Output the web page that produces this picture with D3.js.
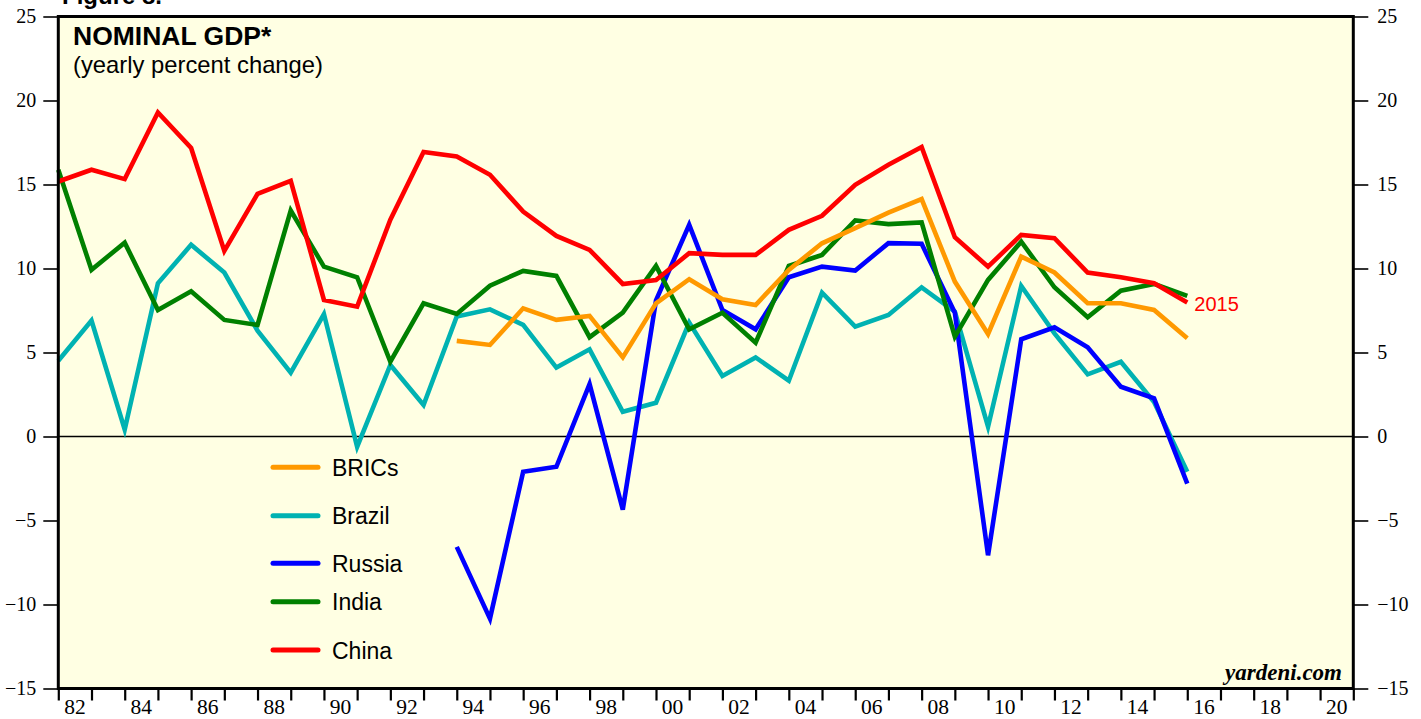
<!DOCTYPE html>
<html>
<head>
<meta charset="utf-8">
<script src="https://cdn.jsdelivr.net/npm/d3@7"></script>
<style>
  html, body { margin: 0; padding: 0; background: #ffffff; }
  svg { display: block; }
</style>
</head>
<body>
<svg id="chart" width="1421" height="719"></svg>
<script>
// ---------------- DATA ----------------
const years = d3.range(1981, 2016); // 1981..2015

const china = [15.18, 15.88, 15.32, 19.29, 17.17, 11.05, 14.45, 15.22, 8.13, 7.73,
  12.9, 16.93, 16.67, 15.58, 13.39, 11.94, 11.11, 9.08, 9.32, 10.91,
  10.81, 10.81, 12.3, 13.14, 14.98, 16.17, 17.23, 11.86, 10.11, 12.0,
  11.8, 9.76, 9.48, 9.12, 7.97];

const india = [15.88, 9.92, 11.54, 7.53, 8.65, 6.94, 6.64, 13.45, 10.11, 9.48,
  4.45, 7.93, 7.29, 8.98, 9.86, 9.56, 5.91, 7.37, 10.15, 6.38,
  7.37, 5.58, 10.15, 10.81, 12.86, 12.64, 12.74, 5.94, 9.32, 11.6,
  8.88, 7.1, 8.68, 9.08, 8.37];

const brazil = [4.51, 6.9, 0.42, 9.12, 11.41, 9.76, 6.3, 3.8, 7.29, -0.61,
  4.26, 1.87, 7.15, 7.57, 6.64, 4.1, 5.19, 1.47, 2.01, 6.78,
  3.6, 4.71, 3.32, 8.56, 6.54, 7.23, 8.88, 7.43, 0.58, 8.96,
  6.14, 3.7, 4.45, 2.05, -2.1];

const russia = [null, null, null, null, null, null, null, null, null, null,
  null, null, -6.57, -10.84, -2.1, -1.8, 3.12, -4.35, 8.1, 12.6,
  7.53, 6.38, 9.48, 10.11, 9.88, 11.51, 11.47, 7.37, -7.07, 5.79,
  6.5, 5.31, 2.96, 2.27, -2.8];

const brics = [null, null, null, null, null, null, null, null, null, null,
  null, null, 5.69, 5.45, 7.63, 6.94, 7.18, 4.71, 7.93, 9.36,
  8.17, 7.83, 9.92, 11.5, 12.4, 13.33, 14.13, 9.22, 6.1, 10.71,
  9.76, 7.93, 7.93, 7.53, 5.85];

const seriesNames = ["BRICs", "Brazil", "Russia", "India", "China"];
const seriesValues = [brics, brazil, russia, india, china];
const seriesColors = ["#ff9900", "#00b2b2", "#0000ff", "#008000", "#ff0000"];
const drawOrder = ["Brazil", "Russia", "India", "BRICs", "China"];

const yTicks = [-15, -10, -5, 0, 5, 10, 15, 20, 25];
const xTickYears = d3.range(1982, 2022);               // year boundaries
const xLabelYears = d3.range(1982, 2021, 2);
const xLabels = ["82","84","86","88","90","92","94","96","98","00",
                 "02","04","06","08","10","12","14","16","18","20"];

// ---------------- LAYOUT ----------------
(function () {
const svg = d3.select("#chart");
const pL = 58.3, pR = 1353.3, pT = 16.5, pB = 688.5;

const x = d3.scaleLinear().domain([1982, 2021]).range([pL, pR]);
const y = d3.scaleLinear().domain([-15, 25]).range([pB, pT]);

// plot background
svg.append("rect")
  .attr("x", pL).attr("y", pT)
  .attr("width", pR - pL).attr("height", pB - pT)
  .attr("fill", "#ffffe3");

// partial header at very top (cut off in the original)
svg.append("text")
  .attr("x", 62).attr("y", 4)
  .attr("font-family", "Liberation Sans, Arial, sans-serif")
  .attr("font-weight", "bold").attr("font-size", 24)
  .attr("fill", "#000")
  .text("Figure 8.");

// zero line
svg.append("line")
  .attr("x1", pL).attr("x2", pR)
  .attr("y1", y(0)).attr("y2", y(0))
  .attr("stroke", "#000").attr("stroke-width", 1.3);

// axes
const serif = "Liberation Serif, Times New Roman, serif";
const leftAxis = svg.append("g")
  .attr("transform", `translate(${pL},0)`)
  .call(d3.axisLeft(y).tickValues(yTicks).tickSize(15).tickPadding(7).tickFormat(d3.format("d")));
const rightAxis = svg.append("g")
  .attr("transform", `translate(${pR},0)`)
  .call(d3.axisRight(y).tickValues(yTicks).tickSize(15).tickPadding(9).tickFormat(d3.format("d")));
[leftAxis, rightAxis].forEach(g => {
  g.select(".domain").remove();
  g.selectAll(".tick line").attr("stroke", "#000").attr("stroke-width", 1.6);
  g.selectAll(".tick text")
    .attr("font-family", serif).attr("font-size", 20).attr("fill", "#000");
});

const bottomAxis = svg.append("g")
  .attr("transform", `translate(0,${pB})`)
  .call(d3.axisBottom(x).tickValues(xTickYears).tickSize(12).tickFormat(""));
bottomAxis.select(".domain").remove();
bottomAxis.selectAll(".tick line").attr("stroke", "#000").attr("stroke-width", 2.2);

svg.append("g").selectAll("text")
  .data(xLabelYears)
  .join("text")
  .attr("x", d => x(d + 0.5))
  .attr("y", 713.5)
  .attr("text-anchor", "middle")
  .attr("font-family", serif).attr("font-size", 21.5).attr("fill", "#000")
  .text((d, i) => xLabels[i]);

// lines
const line = d3.line()
  .defined(d => d.v !== null)
  .x(d => x(d.year + 1))
  .y(d => y(d.v));

const linesG = svg.append("g");
drawOrder.forEach(name => {
  const idx = seriesNames.indexOf(name);
  const pts = years.map((yr, i) => ({ year: yr, v: seriesValues[idx][i] }));
  linesG.append("path")
    .datum(pts)
    .attr("d", line)
    .attr("fill", "none")
    .attr("stroke", seriesColors[idx])
    .attr("stroke-width", 4.6)
    .attr("stroke-linejoin", "miter")
    .attr("stroke-miterlimit", 4);
});

// 2015 label
svg.append("text")
  .attr("x", x(2016) + 7).attr("y", y(china[china.length - 1]) + 8)
  .attr("font-family", "Liberation Sans, Arial, sans-serif")
  .attr("font-size", 20).attr("fill", "#ff0000")
  .text("2015");

// legend
const sans = "Liberation Sans, Arial, Helvetica, sans-serif";
const legendY = [467.3, 515.7, 563.3, 601.7, 650];
const legend = svg.append("g");
seriesNames.forEach((name, i) => {
  legend.append("line")
    .attr("x1", 273).attr("x2", 318)
    .attr("y1", legendY[i]).attr("y2", legendY[i])
    .attr("stroke", seriesColors[i]).attr("stroke-width", 5)
    .attr("stroke-linecap", "round");
  legend.append("text")
    .attr("x", 332).attr("y", legendY[i] + 8.5)
    .attr("font-family", sans).attr("font-size", 23).attr("fill", "#000")
    .text(name);
});

// titles
svg.append("text")
  .attr("x", 73).attr("y", 45)
  .attr("font-family", sans).attr("font-weight", "bold").attr("font-size", 26.5)
  .attr("fill", "#000")
  .text("NOMINAL GDP*");
svg.append("text")
  .attr("x", 73).attr("y", 73)
  .attr("font-family", sans).attr("font-size", 23.8)
  .attr("fill", "#000")
  .text("(yearly percent change)");

// watermark
svg.append("text")
  .attr("x", 1342).attr("y", 680)
  .attr("text-anchor", "end")
  .attr("font-family", serif).attr("font-style", "italic").attr("font-weight", "bold")
  .attr("font-size", 23).attr("fill", "#000")
  .text("yardeni.com");

// frame
svg.append("rect")
  .attr("x", pL).attr("y", pT)
  .attr("width", pR - pL).attr("height", pB - pT)
  .attr("fill", "none").attr("stroke", "#000").attr("stroke-width", 3);
})();
</script>
</body>
</html>
